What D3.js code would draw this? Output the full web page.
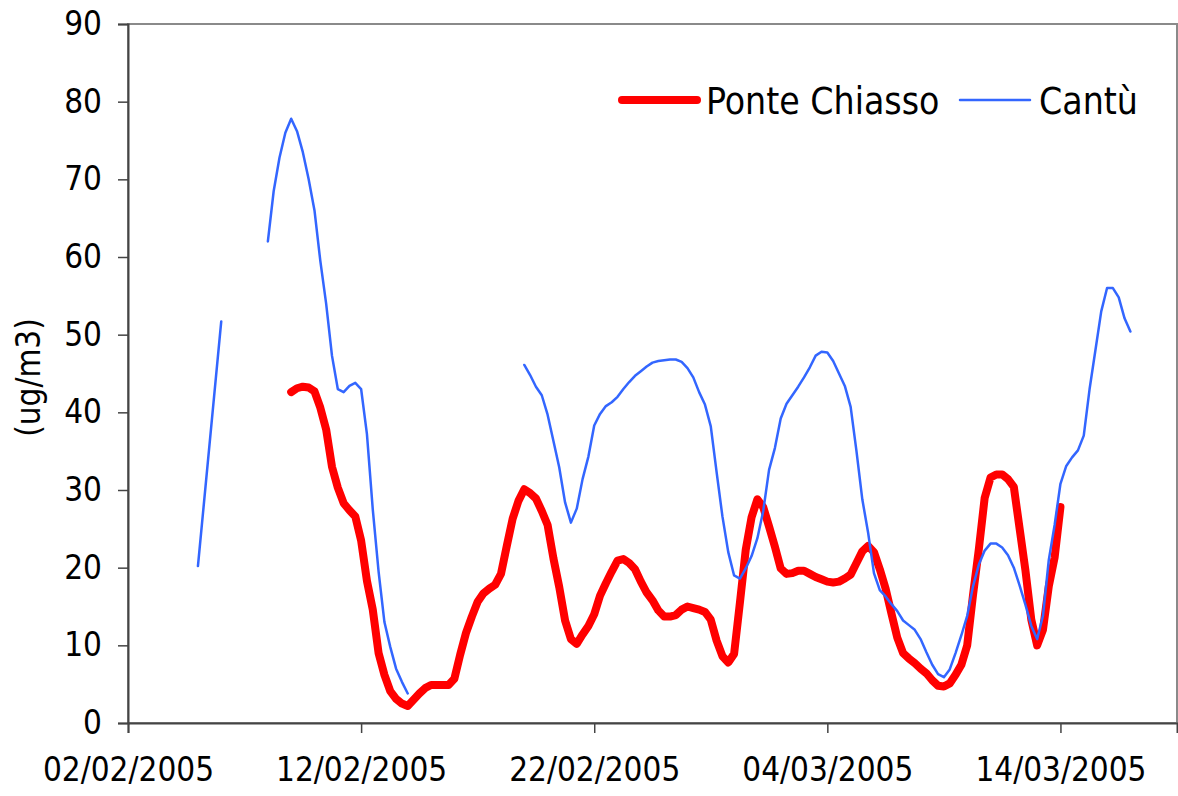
<!DOCTYPE html>
<html>
<head>
<meta charset="utf-8">
<script src="https://cdn.jsdelivr.net/npm/d3@7"></script>
<style>
  html, body { margin: 0; padding: 0; background: #fff; }
  svg { display: block; }
  text { font-family: "DejaVu Sans Condensed", "DejaVu Sans", sans-serif; font-stretch: condensed; fill: #000; }
</style>
</head>
<body>
<div id="chart"></div>
<script>
// Axis setup
const xDomain = ['02/02/2005 00:00', '19/03/2005 00:00'];
const xTickLabels = ['02/02/2005', '12/02/2005', '22/02/2005', '04/03/2005', '14/03/2005'];
const yTicks = [0, 10, 20, 30, 40, 50, 60, 70, 80, 90];

const seriesNames = ['Ponte Chiasso', 'Cantù'];

// Ponte Chiasso, 6-hourly values from 09/02/2005 00:00
const chiassoStart = '09/02/2005 00:00';
const chiassoValues = [
  42.6, 43.1, 43.3, 43.2, 42.7, 40.6, 37.8, 33.0, 30.3, 28.3, 27.4, 26.6,
  23.5, 18.3, 14.6, 9.0, 6.2, 4.1, 3.1, 2.5, 2.2, 3.0, 3.8, 4.5,
  4.9, 4.9, 4.9, 4.9, 5.7, 8.8, 11.6, 13.7, 15.6, 16.7, 17.3, 17.8,
  19.2, 22.8, 26.3, 28.6, 30.1, 29.6, 28.9, 27.3, 25.5, 21.2, 17.5, 13.2,
  10.8, 10.2, 11.4, 12.5, 14.0, 16.4, 18.0, 19.5, 20.9, 21.1, 20.6, 19.8,
  18.2, 16.8, 15.8, 14.5, 13.7, 13.7, 13.9, 14.6, 15.0, 14.8, 14.6, 14.3,
  13.3, 10.6, 8.6, 7.8, 8.9, 15.5, 22.3, 26.5, 28.8, 27.8, 25.3, 22.7,
  19.9, 19.2, 19.3, 19.6, 19.6, 19.2, 18.8, 18.5, 18.2, 18.1, 18.2, 18.6,
  19.1, 20.6, 22.1, 22.8, 22.0, 19.8, 17.3, 14.1, 11.0, 9.0, 8.3, 7.7,
  7.0, 6.4, 5.5, 4.8, 4.7, 5.1, 6.2, 7.5, 10.0, 16.5, 22.4, 29.0,
  31.6, 32.0, 32.0, 31.4, 30.4, 25.0, 19.6, 13.3, 10.0, 12.0, 17.6, 21.3,
  27.8
];

// Cantù, daily values 05/02 - 06/02
const cantuDailyStart = '05/02/2005 00:00';
const cantuDailyValues = [20.2, 51.7];

// Cantù, 6-hourly values from 08/02/2005 00:00
const cantuFirstStart = '08/02/2005 00:00';
const cantuFirstValues = [
  62.0, 68.5, 72.8, 76.0, 77.8, 76.2, 73.5, 70.0, 66.0, 59.5, 54.0, 47.3,
  43.0, 42.6, 43.4, 43.8, 43.0, 37.2, 27.5, 19.5, 13.0, 9.8, 7.0, 5.3,
  3.8
];

// Cantù, 6-hourly values from 19/02/2005 00:00
const cantuSecondStart = '19/02/2005 00:00';
const cantuSecondValues = [
  46.1, 44.8, 43.3, 42.2, 39.7, 36.3, 32.9, 28.4, 25.8, 27.6, 31.4, 34.3,
  38.3, 39.8, 40.8, 41.3, 42.0, 43.0, 43.9, 44.7, 45.3, 45.9, 46.4, 46.6,
  46.7, 46.8, 46.8, 46.5, 45.7, 44.5, 42.6, 41.0, 38.2, 32.3, 26.6, 22.0,
  19.0, 18.6, 19.9, 21.5, 23.8, 27.3, 32.6, 35.4, 39.2, 41.1, 42.2, 43.3,
  44.5, 45.8, 47.3, 47.8, 47.7, 46.6, 45.0, 43.4, 40.7, 35.0, 28.8, 24.5,
  19.3, 17.1, 16.3, 15.3, 14.4, 13.2, 12.6, 12.0, 10.8, 9.1, 7.5, 6.3,
  5.9, 6.9, 9.0, 11.3, 13.8, 17.6, 20.4, 22.2, 23.1, 23.1, 22.6, 21.6,
  20.0, 17.7, 15.2, 12.5, 10.8, 13.8, 21.0, 25.5, 30.8, 33.1, 34.2, 35.1,
  37.0, 43.0, 48.0, 53.0, 56.0, 56.0, 54.8, 52.1, 50.4
];

const width = 1178;
const height = 796;
const margin = { top: 24, right: 1, bottom: 73, left: 128 };

const parseDate = d3.utcParse('%d/%m/%Y %H:%M');
const parseDay = d3.utcParse('%d/%m/%Y');

function toPoints(startStr, stepHours, values) {
  const t0 = parseDate(startStr);
  return values.map((v, i) => ({ date: d3.utcHour.offset(t0, i * stepHours), value: v }));
}

const chiasso = [toPoints(chiassoStart, 6, chiassoValues)];
const cantu = [
  toPoints(cantuDailyStart, 24, cantuDailyValues),
  toPoints(cantuFirstStart, 6, cantuFirstValues),
  toPoints(cantuSecondStart, 6, cantuSecondValues),
];

const x = d3.scaleUtc()
  .domain(xDomain.map(parseDate))
  .range([margin.left, width - margin.right]);

const y = d3.scaleLinear()
  .domain([0, 90])
  .range([height - margin.bottom, margin.top]);

const svg = d3.select('#chart').append('svg')
  .attr('width', width)
  .attr('height', height)
  .attr('viewBox', [0, 0, width, height]);

// Plot frame (top and right borders in gray)
svg.append('rect')
  .attr('x', margin.left)
  .attr('y', margin.top)
  .attr('width', width - margin.right - margin.left)
  .attr('height', height - margin.bottom - margin.top)
  .attr('fill', 'none')
  .attr('stroke', '#8a8a8a')
  .attr('stroke-width', 2);

// Lines
const line = d3.line()
  .x(d => x(d.date))
  .y(d => y(d.value));

svg.append('g').selectAll('path')
  .data(chiasso)
  .join('path')
  .attr('d', line)
  .attr('fill', 'none')
  .attr('stroke', '#ff0000')
  .attr('stroke-width', 8)
  .attr('stroke-linejoin', 'round')
  .attr('stroke-linecap', 'round');

svg.append('g').selectAll('path')
  .data(cantu)
  .join('path')
  .attr('d', line)
  .attr('fill', 'none')
  .attr('stroke', '#3366ff')
  .attr('stroke-width', 2.5)
  .attr('stroke-linejoin', 'round')
  .attr('stroke-linecap', 'round');

// Axes
const xAxis = d3.axisBottom(x)
  .tickValues(xTickLabels.map(parseDay))
  .tickFormat(d3.utcFormat('%d/%m/%Y'))
  .tickSize(10)
  .tickPadding(25);

const yAxis = d3.axisLeft(y)
  .tickValues(yTicks)
  .tickSize(10)
  .tickPadding(16);

const gx = svg.append('g')
  .attr('transform', `translate(0,${height - margin.bottom})`)
  .call(xAxis);

const gy = svg.append('g')
  .attr('transform', `translate(${margin.left},0)`)
  .call(yAxis);

[gx, gy].forEach(g => {
  g.select('.domain').attr('stroke', '#444').attr('stroke-width', 2);
  g.selectAll('.tick line').attr('stroke', '#444').attr('stroke-width', 1.5);
  g.selectAll('.tick text')
    .attr('font-family', '"DejaVu Sans Condensed", "DejaVu Sans", sans-serif')
    .attr('font-size', 33)
    .attr('fill', '#000');
});

// Y axis title
svg.append('text')
  .attr('transform', `translate(40,${(margin.top + height - margin.bottom) / 2 + 4}) rotate(-90)`)
  .attr('text-anchor', 'middle')
  .attr('font-size', 33)
  .text('(ug/m3)');

// Legend
const legendItems = [
  { name: seriesNames[0], color: '#ff0000', width: 8, x0: 622, x1: 697 },
  { name: seriesNames[1], color: '#3366ff', width: 2.5, x0: 960, x1: 1030 },
];

const legend = svg.append('g');
legendItems.forEach(item => {
  legend.append('line')
    .attr('x1', item.x0)
    .attr('x2', item.x1)
    .attr('y1', 100)
    .attr('y2', 100)
    .attr('stroke', item.color)
    .attr('stroke-width', item.width)
    .attr('stroke-linecap', 'round');
  legend.append('text')
    .attr('x', item.x1 + 9)
    .attr('y', 101)
    .attr('dy', '0.36em')
    .attr('font-size', 37)
    .text(item.name);
});
</script>
</body>
</html>
